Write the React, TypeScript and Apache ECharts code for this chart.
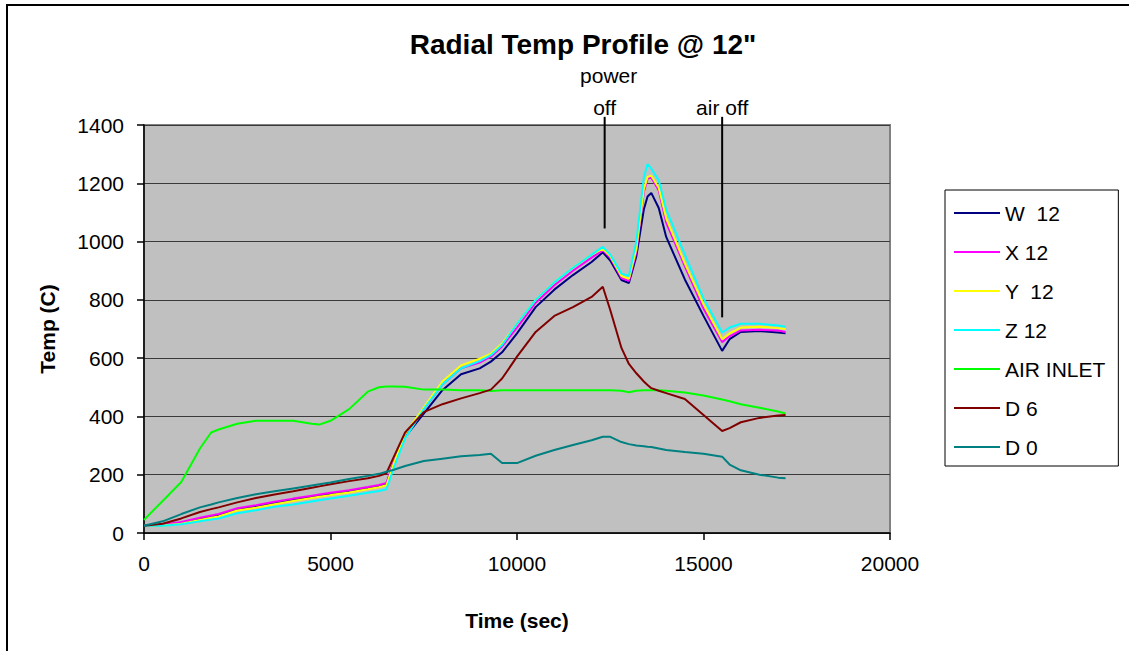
import React, { useEffect, useRef } from "react";
import * as echarts from "echarts";

const timeSec = [0, 500, 1000, 1500, 1800, 2000, 2500, 3000, 3500, 4000, 4500, 4700, 5000, 5500, 6000, 6300, 6500,
  6700, 7000, 7500, 8000, 8500, 9000, 9300, 9600, 10000,
  10500, 11000, 11500, 12000, 12300,
  12500, 12800, 13000, 13200, 13400, 13500,
  13600, 13800, 14000, 14500, 15000,
  15500, 15700, 16000, 16500, 17000, 17200];

const w12 = [25, 27, 35, 48, 56, 61, 80, 91, 102, 113, 124, 128, 134, 143, 154, 161, 168,
  235, 330, 410, 490, 545, 565, 588, 620, 685,
  775, 835, 885, 930, 963,
  935, 868, 858, 950, 1110, 1155,
  1167, 1115, 1016, 870, 745,
  625, 665, 690, 693, 688, 685];
const x12 = [25, 28, 38, 52, 60, 65, 85, 95, 107, 118, 128, 132, 138, 147, 158, 165, 172,
  245, 340, 425, 510, 565, 585, 605, 640, 705,
  790, 850, 900, 945, 970,
  945, 875, 865, 965, 1170, 1215,
  1220, 1175, 1065, 915, 770,
  655, 675, 695, 697, 695, 690];
const y12 = [25, 26, 32, 45, 52, 57, 77, 87, 99, 110, 120, 124, 130, 139, 150, 157, 164,
  240, 340, 430, 520, 575, 598, 615, 650, 718,
  800, 860, 910, 955, 975,
  950, 882, 872, 975, 1180, 1222,
  1226, 1185, 1080, 925, 785,
  665, 685, 705, 708, 703, 700];
const z12 = [25, 25, 30, 40, 46, 50, 68, 78, 90, 98, 108, 112, 118, 128, 138, 144, 150,
  225, 325, 425, 510, 565, 590, 610, 645, 718,
  800, 860, 910, 955, 982,
  955, 890, 882, 1000, 1220, 1266,
  1250, 1210, 1110, 955, 805,
  688, 705, 718, 718, 712, 708];
const airInlet = [45, 110, 175, 290, 345, 355, 375, 385, 385, 385, 375, 372, 385, 425, 485, 500, 503,
  503, 502, 492, 492, 490, 490, 487, 490, 490,
  490, 490, 490, 490, 490,
  490, 488, 483, 488, 490, 490,
  490, 490, 488, 482, 472,
  458, 452, 442, 430, 417, 410];
const d6 = [25, 32, 50, 72, 82, 88, 105, 120, 132, 143, 155, 160, 167, 178, 188, 196, 205,
  262, 345, 415, 442, 462, 480, 492, 530, 605,
  690, 745, 775, 810, 845,
  765, 635, 580, 548, 520, 508,
  497, 488, 480, 460, 405,
  350, 360, 380, 395, 403, 405];
const d0 = [25, 40, 65, 88, 98, 105, 120, 133, 143, 153, 163, 167, 173, 185, 196, 203, 210,
  217, 230, 247, 255, 263, 268, 272, 240, 240,
  265, 285, 302, 318, 330,
  330, 312, 305, 300, 298, 296,
  295, 290, 285, 278, 272,
  262, 235, 215, 200, 190, 188];

const seriesNames = ["W  12", "X 12", "Y  12", "Z 12", "AIR INLET", "D 6", "D 0"];
const seriesValues = [w12, x12, y12, z12, airInlet, d6, d0];
const seriesColors = ["#000080", "#FF00FF", "#FFFF00", "#00FFFF", "#00FF00", "#800000", "#008080"];

// annotations: time of the event, value at top and bottom of the pointer line
const annotations = [
  { lines: ["power", "off"], time: 12350, top: 1428, bottom: 1045 },
  { lines: ["air off"], time: 15500, top: 1428, bottom: 740 },
];

const FONT = "Liberation Sans, Arial, sans-serif";

export default function App() {
  const ref = useRef<HTMLDivElement>(null);
  useEffect(() => {
    const chart = echarts.init(ref.current!, null, { renderer: "svg" });
    const option: any = {
      animation: false,
      backgroundColor: "#ffffff",
      title: {
        text: 'Radial Temp Profile @ 12"',
        left: 578,
        top: 25,
        textAlign: "center",
        textStyle: { fontFamily: FONT, fontSize: 28, fontWeight: "bold", color: "#000" },
      },
      grid: {
        left: 144,
        right: 239,
        top: 125,
        bottom: 118,
        show: true,
        backgroundColor: "#C0C0C0",
        borderColor: "#808080",
        borderWidth: 2,
      },
      legend: {
        orient: "vertical",
        left: 945,
        top: 190,
        padding: [12, 13, 8, 9],
        itemWidth: 46,
        itemHeight: 2,
        itemGap: 17,
        icon: "rect",
        borderColor: "#000",
        borderWidth: 1,
        backgroundColor: "#fff",
        textStyle: { fontFamily: FONT, fontSize: 21, lineHeight: 22, color: "#000" },
        data: seriesNames,
      },
      xAxis: {
        type: "value",
        min: 0,
        max: 20000,
        interval: 5000,
        name: "Time (sec)",
        nameLocation: "middle",
        nameGap: 77,
        nameTextStyle: { fontFamily: FONT, fontSize: 21, fontWeight: "bold", color: "#000" },
        axisLine: { show: true, onZero: false, lineStyle: { color: "#000", width: 1.5 } },
        axisTick: { show: true, length: 7, lineStyle: { color: "#000", width: 1.5 } },
        axisLabel: { fontFamily: FONT, fontSize: 21, color: "#000", margin: 20, formatter: (v: number) => String(v) },
        splitLine: { show: false },
      },
      yAxis: {
        type: "value",
        min: 0,
        max: 1400,
        interval: 200,
        name: "Temp (C)",
        nameLocation: "middle",
        nameGap: 86,
        nameRotate: 90,
        nameTextStyle: { fontFamily: FONT, fontSize: 21, fontWeight: "bold", color: "#000" },
        axisLine: { show: true, lineStyle: { color: "#000", width: 1.5 } },
        axisTick: { show: true, length: 7, lineStyle: { color: "#000", width: 1.5 } },
        axisLabel: { fontFamily: FONT, fontSize: 21, color: "#000", margin: 20, formatter: (v: number) => String(v) },
        splitLine: { show: true, lineStyle: { color: "#3a3a3a", width: 1 } },
      },
      series: seriesNames.map((name, k) => ({
        name,
        type: "line",
        symbol: "none",
        color: seriesColors[k],
        lineStyle: { color: seriesColors[k], width: 2 },
        data: timeSec.map((t, i) => [t, seriesValues[k][i]]),
      })),
    };
    chart.setOption(option);

    const graphics: any[] = [
      {
        type: "rect",
        shape: { x: 7, y: 5, width: 1200, height: 700 },
        style: { fill: "none", stroke: "#000", lineWidth: 2 },
        silent: true,
      },
    ];
    annotations.forEach((a) => {
      const pTop = chart.convertToPixel({ gridIndex: 0 }, [a.time, a.top]) as number[];
      const pBot = chart.convertToPixel({ gridIndex: 0 }, [a.time, a.bottom]) as number[];
      graphics.push({
        type: "line",
        shape: { x1: pTop[0], y1: pTop[1], x2: pBot[0], y2: pBot[1] },
        style: { stroke: "#000", lineWidth: 2 },
        z: 100,
      });
      const n = a.lines.length;
      a.lines.forEach((txt, j) => {
        graphics.push({
          type: "text",
          x: pTop[0] + (txt === "power" ? 4 : 0),
          y: pTop[1] + 1 - (n - 1 - j) * 32,
          style: {
            text: txt,
            fontFamily: FONT,
            fontSize: 21,
            fill: "#000",
            align: "center",
            verticalAlign: "bottom",
          },
          z: 100,
        });
      });
    });
    chart.setOption({ graphic: graphics });
    return () => chart.dispose();
  }, []);
  return (
    <div
      ref={ref}
      style={{ position: "absolute", left: 0, top: 0, width: 1129, height: 651, background: "#fff" }}
    />
  );
}
